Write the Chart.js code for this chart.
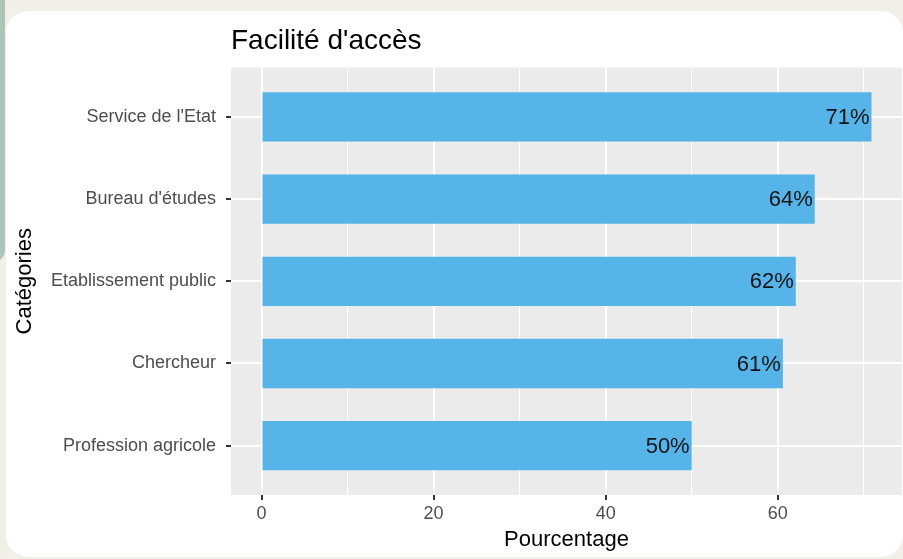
<!DOCTYPE html>
<html>
<head>
<meta charset="utf-8">
<script src="https://cdn.jsdelivr.net/npm/chart.js@4.4.1/dist/chart.umd.min.js"></script>
<style>
  html, body { margin: 0; padding: 0; background: #f2eee8; }
  #wrap { width: 903px; height: 559px; position: relative; }
</style>
</head>
<body>
<div id="wrap"><canvas id="chart" width="903" height="559"></canvas></div>
<script>
const categories = ["Service de l'Etat", "Bureau d'études", "Etablissement public", "Chercheur", "Profession agricole"];
const percentages = [70.9, 64.3, 62.1, 60.6, 50.0];
const xTicks = [0, 10, 20, 30, 40, 50, 60, 70];

const FONT = "'Liberation Sans', Arial, Helvetica, sans-serif";

// ggplot pads the value axis by 5% of the data range on both ends
const xMax = Math.max(...percentages);
const xPad = xMax * 0.05;

const backdrop = {
  id: "backdrop",
  beforeDraw(chart) {
    const { ctx, chartArea } = chart;
    ctx.save();
    ctx.fillStyle = "#f2eee8";
    ctx.fillRect(0, 0, chart.width, chart.height);
    // greenish strip on the left edge
    ctx.fillStyle = "#aec4b8";
    ctx.beginPath();
    ctx.roundRect(-20, -20, 25, 282, 12);
    ctx.fill();
    // white card
    ctx.fillStyle = "#ffffff";
    ctx.beginPath();
    ctx.roundRect(6, 11, 897, 546, 22);
    ctx.fill();
    // ggplot grey panel
    ctx.fillStyle = "#ebebeb";
    ctx.fillRect(chartArea.left, chartArea.top, chartArea.right - chartArea.left, chartArea.bottom - chartArea.top);
    ctx.restore();
  },
};

const barLabels = {
  id: "barLabels",
  afterDatasetsDraw(chart) {
    const { ctx } = chart;
    const meta = chart.getDatasetMeta(0);
    ctx.save();
    ctx.font = `22px ${FONT}`;
    ctx.fillStyle = "#141414";
    ctx.textAlign = "right";
    ctx.textBaseline = "middle";
    meta.data.forEach((bar, i) => {
      ctx.fillText(`${Math.round(percentages[i])}%`, bar.x - 2, bar.y + 1);
    });
    ctx.restore();
  },
};

const ctx = document.getElementById("chart").getContext("2d");
const chart = new Chart(ctx, {
  type: "bar",
  data: {
    datasets: [
      {
        data: categories.map((c, i) => ({ x: percentages[i], y: i + 1 })),
        backgroundColor: "#56b4e9",
        borderWidth: 0,
        categoryPercentage: 1,
        barPercentage: 0.6,
      },
    ],
  },
  plugins: [backdrop, barLabels],
  options: {
    indexAxis: "y",
    responsive: false,
    animation: false,
    layout: { padding: { left: 6, top: 11, right: 1, bottom: 2 } },
    plugins: {
      legend: { display: false },
      tooltip: { enabled: false },
      title: {
        display: true,
        text: "Facilité d'accès",
        align: "start",
        fullSize: false,
        color: "#000000",
        font: { family: FONT, size: 28, weight: "normal" },
        padding: { top: 13, bottom: 10 },
      },
    },
    scales: {
      x: {
        type: "linear",
        min: -xPad,
        max: xMax + xPad,
        afterBuildTicks: (scale) => {
          scale.ticks = xTicks.map((v) => ({ value: v }));
        },
        afterFit: (scale) => {
          scale.height = 62;
        },
        border: { display: false },
        grid: {
          color: "#ffffff",
          lineWidth: (c) => (c.tick && c.tick.value % 20 === 0 ? 2 : 1),
          tickColor: (c) => (c.tick && c.tick.value % 20 === 0 ? "#333333" : "rgba(0,0,0,0)"),
          tickWidth: 2,
          tickLength: 5,
        },
        ticks: {
          color: "#4d4d4d",
          font: { family: FONT, size: 18 },
          padding: 3,
          maxRotation: 0,
          autoSkip: false,
          callback: (v) => (v % 20 === 0 ? v : ""),
        },
        title: {
          display: true,
          text: "Pourcentage",
          color: "#000000",
          font: { family: FONT, size: 22 },
          padding: { top: 0, bottom: 4 },
        },
      },
      y: {
        type: "linear",
        reverse: true,
        offset: false,
        min: 0.4,
        max: categories.length + 0.6,
        afterBuildTicks: (scale) => {
          scale.ticks = categories.map((c, i) => ({ value: i + 1 }));
        },
        afterFit: (scale) => {
          scale.width = 225;
        },
        border: { display: false },
        grid: {
          offset: false,
          color: "#ffffff",
          lineWidth: 2,
          tickColor: "#333333",
          tickWidth: 2,
          tickLength: 5,
        },
        ticks: {
          color: "#4d4d4d",
          font: { family: FONT, size: 18 },
          padding: 10,
          autoSkip: false,
          callback: (v) => categories[v - 1] || "",
        },
        title: {
          display: true,
          text: "Catégories",
          color: "#000000",
          font: { family: FONT, size: 22 },
          padding: { top: 6, bottom: 0 },
        },
      },
    },
  },
});
</script>
</body>
</html>
